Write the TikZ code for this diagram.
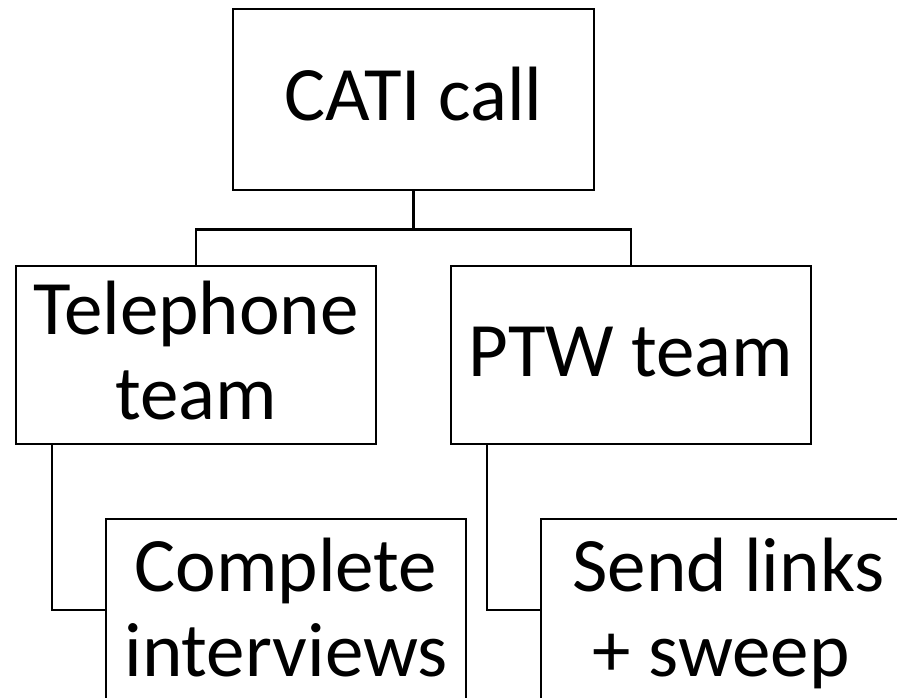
\documentclass[tikz,border=0pt]{standalone}
\usepackage{fontspec}
\setmainfont{Carlito}
\begin{document}
\begin{tikzpicture}[x=1pt,y=-1pt,
  box/.style={draw=black, line width=2.8pt, fill=white, inner sep=0pt,
    minimum width=360pt, minimum height=178pt, align=center,
    font=\fontsize{77pt}{85pt}\selectfont},
  oneline/.style={text height=55pt, text depth=12pt},
  twoline/.style={text height=140pt, text depth=12pt},
  link/.style={draw=black, line width=2.8pt}]
\useasboundingbox (0,0) rectangle (897,698);
\fill[white] (0,0) rectangle (897,698);

% top level and the two teams
\node[box, oneline, minimum width=361pt, minimum height=181pt] (cati) at (413.5,99.5) {CATI call};
\node[box, twoline] (tel) at (196,355) {Telephone\\team};
\node[box, oneline] (ptw) at (631,355) {PTW team};

% tasks, running off the lower edge
\node[box, twoline, text height=144pt, minimum height=182pt] (comp) at (286,610) {Complete\\interviews};
\node[box, twoline, text height=144pt, minimum height=182pt] (send) at (721,610) {\hspace*{15pt}Send links\\+ sweep};

% connectors
\draw[link] (cati.south) -- ++(0,38) coordinate (bus) -| (tel.north);
\draw[link] (bus) -| (ptw.north);
\draw[link] ([xshift=-144pt]tel.south) |- (comp.west);
\draw[link] ([xshift=-144pt]ptw.south) |- (send.west);
\end{tikzpicture}
\end{document}
